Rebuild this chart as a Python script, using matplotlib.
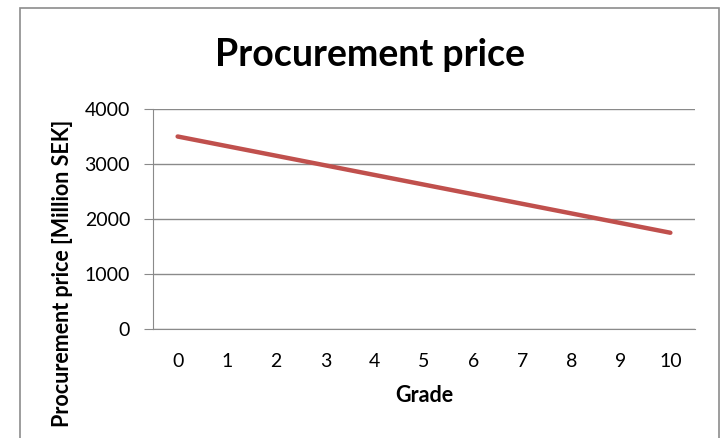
import matplotlib.pyplot as plt
from matplotlib.patches import Rectangle

# Data
grade = [0, 1, 2, 3, 4, 5, 6, 7, 8, 9, 10]
price = [3500, 3325, 3150, 2975, 2800, 2625, 2450, 2275, 2100, 1925, 1750]
y_ticks = [0, 1000, 2000, 3000, 4000]

plt.rcParams['font.family'] = ['Lato', 'DejaVu Sans']

W, H = 721, 438
fig = plt.figure(figsize=(W / 100, H / 100), dpi=100)

# chart border
fig.patches.append(Rectangle((20 / W, -0.05), (719 - 20) / W, 1.05 - 8 / H,
                             transform=fig.transFigure, fill=False,
                             edgecolor='#8c8c8c', linewidth=1.2))

# plot area in pixels: x 153..695, y 109..329
ax = fig.add_axes([153 / W, 1 - 329 / H, (695 - 153) / W, (329 - 109) / H])
ax.plot(grade, price, color='#C0504D', linewidth=3.2, solid_capstyle='round')

ax.set_xlim(-0.5, 10.5)
ax.set_ylim(0, 4000)
ax.set_yticks(y_ticks)
ax.set_xticks(grade)
ax.grid(axis='y', color='#8a8a8a', linewidth=1)
ax.set_axisbelow(True)

for s in ['top', 'right']:
    ax.spines[s].set_visible(False)
ax.spines['left'].set_color('#8a8a8a')
ax.spines['bottom'].set_color('#8a8a8a')
ax.tick_params(axis='y', length=6.5, color='#8a8a8a', labelsize=14, pad=10)
ax.tick_params(axis='x', length=0, labelsize=14, pad=17)

fig.text(370 / W, 1 - 55 / H, 'Procurement price', ha='center', va='center',
         fontsize=27, fontweight='bold')
fig.text(424 / W, 1 - 396 / H, 'Grade', ha='center', va='center',
         fontsize=15.5, fontweight='bold')
fig.text(63 / W, 1 - 273 / H, 'Procurement price [Million SEK]', ha='center',
         va='center', rotation=90, fontsize=15.5, fontweight='bold')

fig.savefig('out.png', dpi=100)
